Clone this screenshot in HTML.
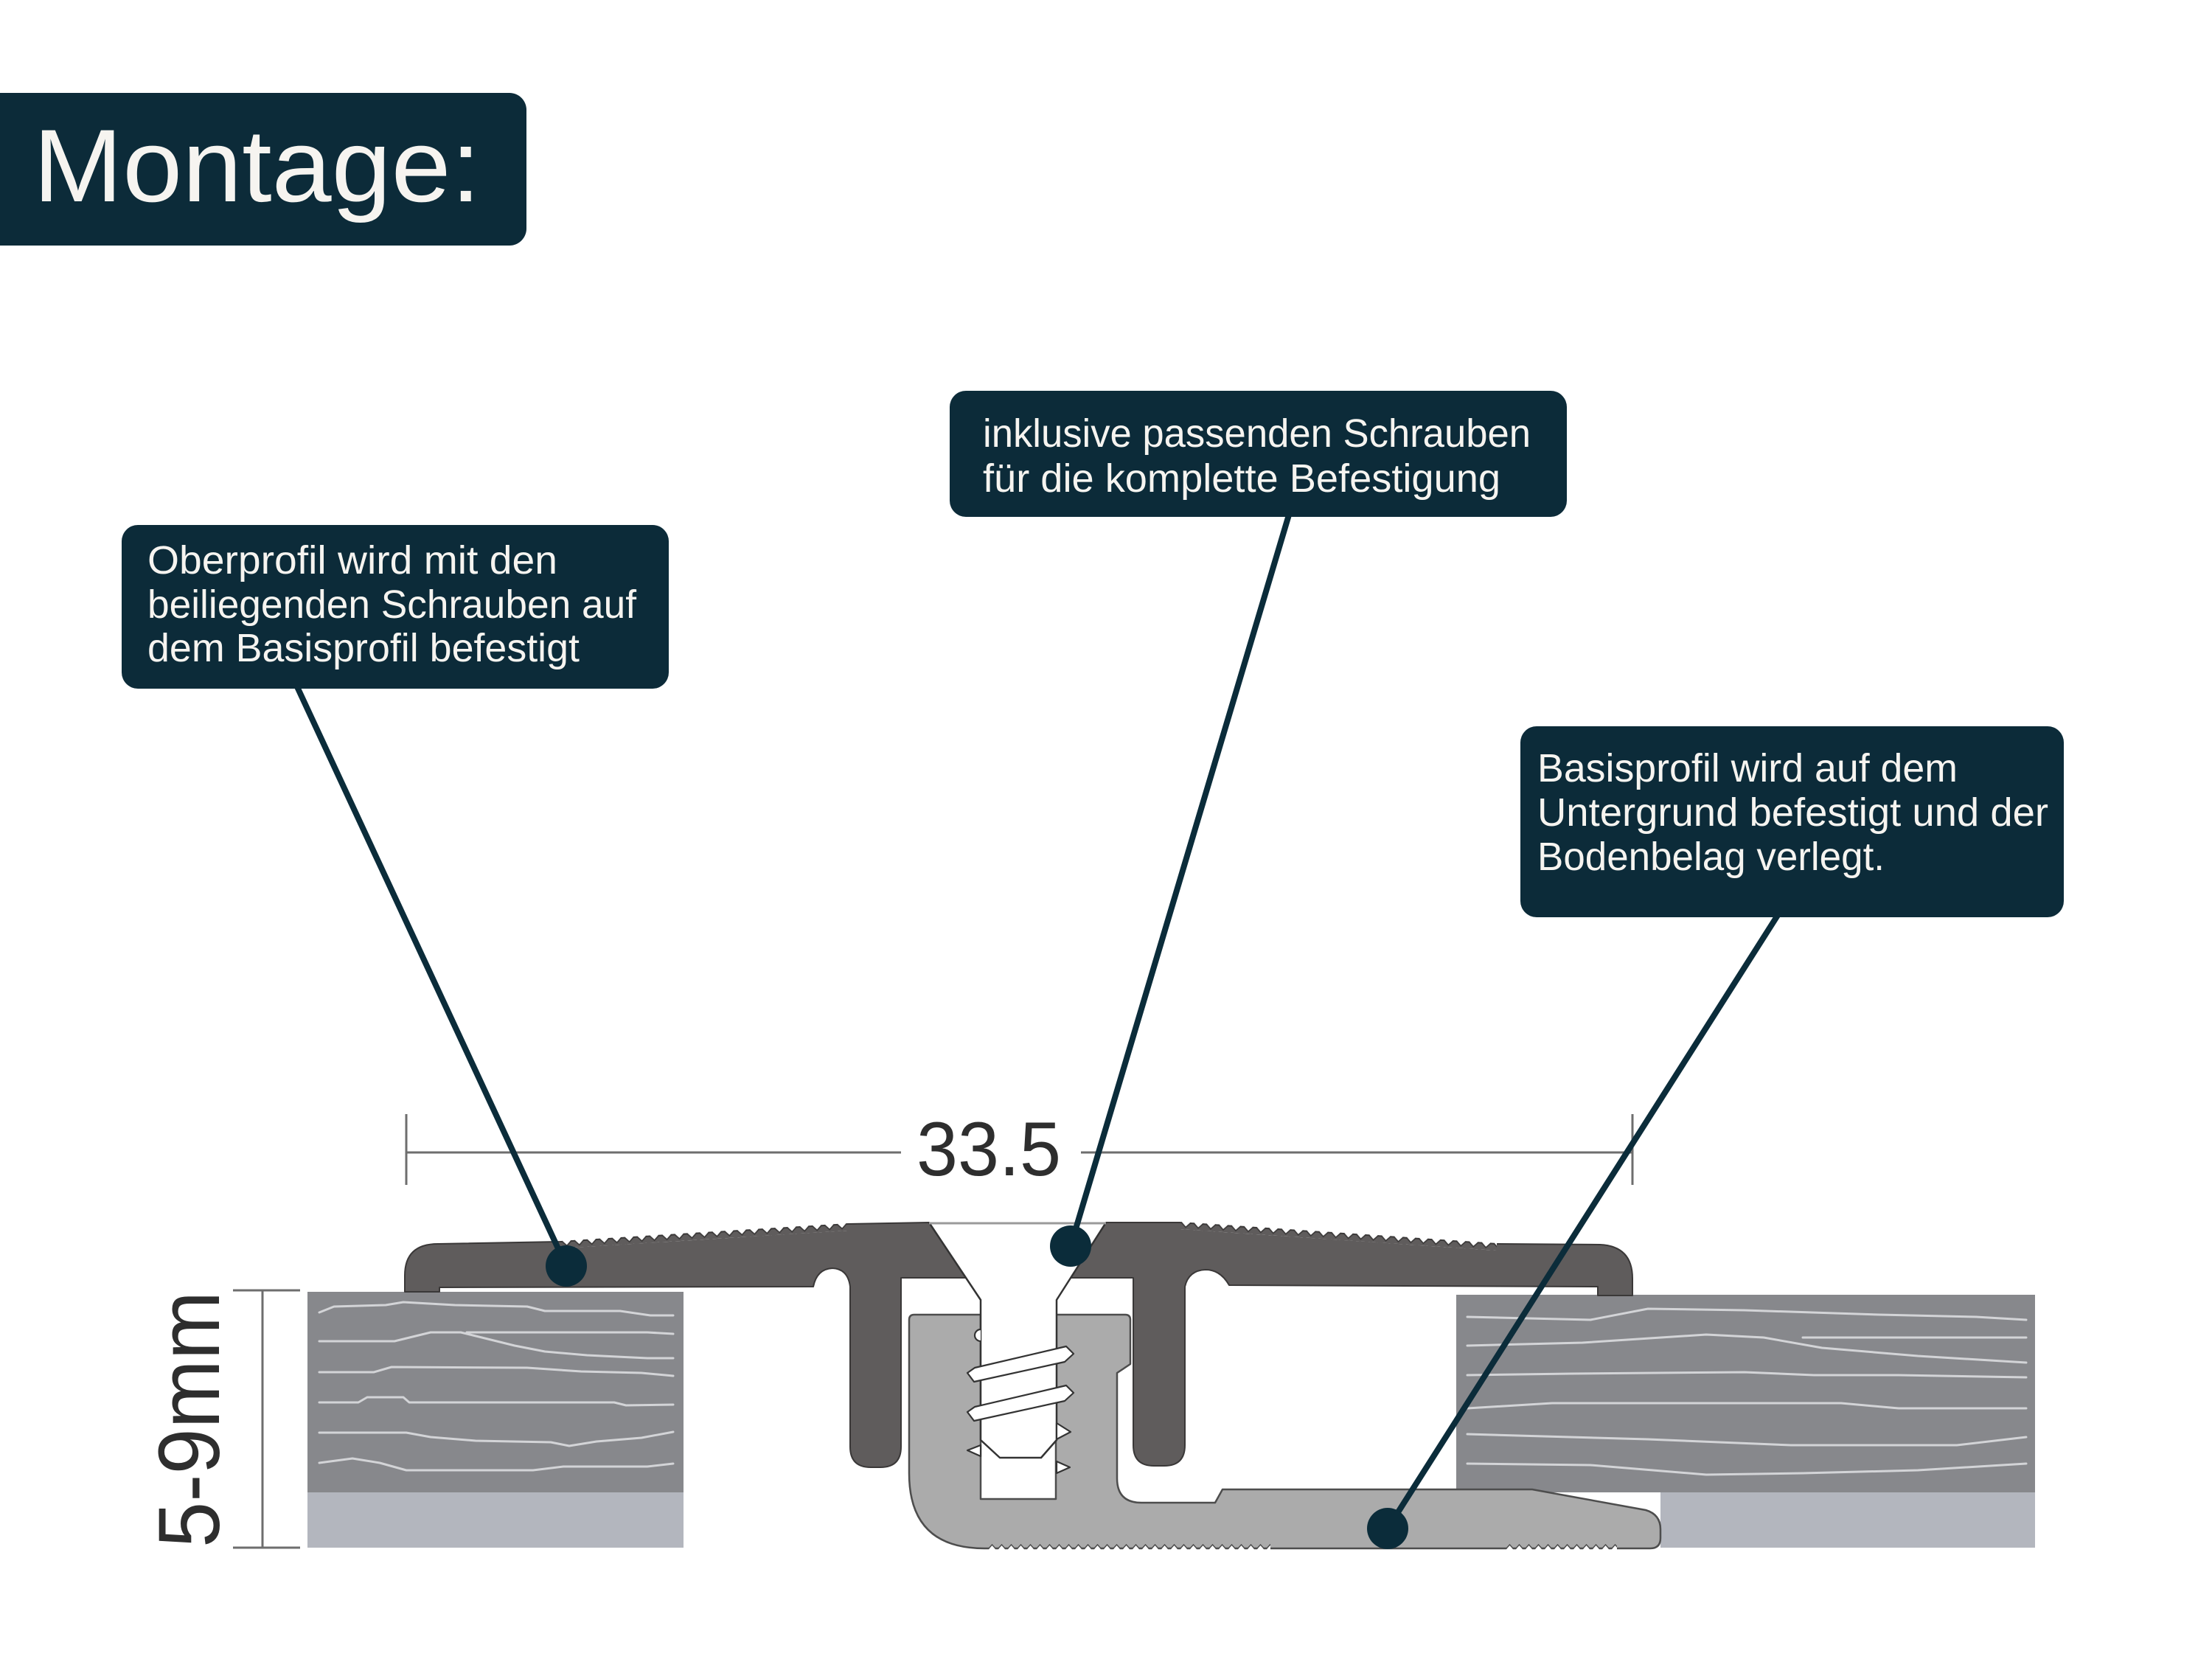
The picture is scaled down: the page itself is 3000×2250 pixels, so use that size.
<!DOCTYPE html>
<html>
<head>
<meta charset="utf-8">
<style>
  html,body{margin:0;padding:0;background:#fff;}
  svg{display:block;}
  text{font-family:"Liberation Sans", "DejaVu Sans", sans-serif;}
</style>
</head>
<body>
<svg width="3000" height="2250" viewBox="0 0 3000 2250" xmlns="http://www.w3.org/2000/svg">
  <defs>
    <pattern id="tT" patternUnits="userSpaceOnUse" width="17" height="11" x="0" y="-2">
      <polygon points="2,0 15,0 8.5,8" fill="#ffffff"/>
      <polyline points="2,1.5 8.5,8 15,1.5" fill="none" stroke="#3a3838" stroke-width="1.6"/>
    </pattern>
    <pattern id="tB" patternUnits="userSpaceOnUse" width="13" height="10" x="0" y="2092">
      <polygon points="1.5,10 11.5,10 6.5,3" fill="#ffffff"/>
      <polyline points="1.5,8.5 6.5,3 11.5,8.5" fill="none" stroke="#4d4d4d" stroke-width="1.5"/>
    </pattern>
  </defs>

  <rect x="0" y="0" width="3000" height="2250" fill="#ffffff"/>

  <!-- Title -->
  <rect x="-40" y="126" width="754" height="207" rx="23" ry="23" fill="#0c2b39"/>
  <text x="45" y="273" font-size="140" fill="#f6f4f0" textLength="607" lengthAdjust="spacingAndGlyphs">Montage:</text>

  <!-- Dimension 33.5 -->
  <g stroke="#6e6e6e" stroke-width="3" fill="none">
    <path d="M551,1563 H1222 M1466,1563 H2214 M551,1511 V1607 M2214,1511 V1607"/>
  </g>
  <text x="1243" y="1594" font-size="104" fill="#2e2e2e" textLength="196" lengthAdjust="spacingAndGlyphs">33.5</text>

  <!-- Dimension 5-9mm -->
  <g stroke="#6e6e6e" stroke-width="3" fill="none">
    <path d="M356,1750 V2099 M316,1750 H407 M316,2099 H407"/>
  </g>
  <text transform="translate(297,2099) rotate(-90)" x="0" y="0" font-size="118" fill="#2e2e2e" textLength="348" lengthAdjust="spacingAndGlyphs">5-9mm</text>

  <!-- Planks -->
  <rect x="417" y="1752" width="510" height="272" fill="#87888c"/>
  <rect x="417" y="2024" width="510" height="75" fill="#b3b6be"/>
  <rect x="1975" y="1756" width="785" height="268" fill="#87888c"/>
  <rect x="2252" y="2024" width="508" height="75" fill="#b3b6be"/>

  <g fill="none" stroke="#d3d4d7" stroke-width="3" stroke-linejoin="round" stroke-linecap="round">
    <polyline points="433,1780 453,1772 523,1770 547,1766 617,1770 715,1772 739,1778 841,1778 882,1784 913,1784"/>
    <polyline points="433,1819 535,1819 584,1807 625,1807 698,1825 739,1833 796,1838 878,1842 913,1842"/>
    <polyline points="633,1807 878,1807 913,1809"/>
    <polyline points="433,1861 507,1861 531,1854 715,1855 788,1860 870,1862 913,1866"/>
    <polyline points="433,1902 486,1902 498,1895 547,1895 555,1902 833,1902 849,1906 913,1905"/>
    <polyline points="433,1943 551,1943 584,1949 645,1954 747,1956 772,1961 809,1955 870,1950 913,1942"/>
    <polyline points="433,1984 478,1978 515,1984 551,1994 723,1994 764,1989 878,1989 913,1985"/>

    <polyline points="1990,1786 2157,1790 2235,1775 2366,1777 2549,1783 2680,1786 2748,1790"/>
    <polyline points="1990,1825 2146,1821 2314,1810 2392,1814 2471,1828 2601,1839 2748,1848"/>
    <polyline points="2445,1814 2748,1814"/>
    <polyline points="1990,1865 2131,1863 2366,1861 2460,1865 2575,1865 2748,1868"/>
    <polyline points="1990,1910 2105,1903 2497,1903 2575,1910 2748,1910"/>
    <polyline points="1990,1945 2235,1952 2429,1960 2654,1960 2748,1949"/>
    <polyline points="1990,1985 2157,1987 2314,2000 2445,1998 2601,1994 2748,1985"/>
  </g>

  <!-- Base profile -->
  <path d="M1240,1783 L1330,1783 L1330,2033 L1432,2033 L1432,1783 L1526,1783 Q1533,1783 1533,1790 L1533,1850 L1515,1862 L1515,2005 Q1515,2038 1548,2038 L1648,2038 L1658,2020 L2078,2020 L2232,2048 Q2252,2054 2252,2074 L2252,2086 Q2252,2100 2238,2100 L1335,2100 Q1233,2100 1233,1998 L1233,1790 Q1233,1783 1240,1783 Z"
        fill="#ababab" stroke="#4d4d4d" stroke-width="2.5" stroke-linejoin="round"/>
  <rect x="1340" y="2092" width="383" height="10" fill="url(#tB)"/>
  <rect x="2040" y="2092" width="153" height="10" fill="url(#tB)"/>

  <!-- Top profile (two pieces separated by screw recess) -->
  <path d="M549,1752 L549,1730 Q549,1687 594,1687 L760,1684 L1150,1660 L1260,1658 L1311,1733 L1222,1733 L1222,1962 Q1222,1990 1194,1990 L1181,1990 Q1153,1990 1153,1962 L1153,1745 Q1150,1721 1129,1720 Q1108,1721 1103,1745 L596,1746 L596,1752 Z"
        fill="#5f5c5c" stroke="#3a3838" stroke-width="2" stroke-linejoin="round"/>
  <path d="M1500,1658 L1600,1658 L2030,1687 L2170,1688 Q2214,1690 2214,1734 L2214,1757 L2167,1757 L2167,1745 L1667,1743 Q1655,1722 1635,1722 Q1612,1723 1607,1745 L1607,1960 Q1607,1988 1579,1988 L1565,1988 Q1537,1988 1537,1960 L1537,1733 L1452,1733 Z"
        fill="#5f5c5c" stroke="#3a3838" stroke-width="2" stroke-linejoin="round"/>
  <g transform="translate(760,1684) rotate(-3.52)">
    <rect x="0" y="-2" width="390" height="11" fill="url(#tT)"/>
  </g>
  <g transform="translate(1600,1658) rotate(3.86)">
    <rect x="0" y="-2" width="431" height="11" fill="url(#tT)"/>
  </g>

  <!-- Screw -->
  <path d="M1260,1658 L1500,1658 L1433,1763 L1433,1953 L1412,1977 L1356,1977 L1330,1953 L1330,1763 Z" fill="#ffffff"/>
  <polyline points="1260,1658 1330,1763 1330,1953 1356,1977 1412,1977 1433,1953 1433,1763 1500,1658" fill="none" stroke="#333" stroke-width="2.5" stroke-linejoin="round"/>
  <line x1="1260" y1="1659" x2="1500" y2="1659" stroke="#9a9a9a" stroke-width="3"/>
  <g fill="#ffffff" stroke="#333" stroke-width="2.2" stroke-linejoin="round">
    <polygon points="1312,1862 1322,1855 1446,1826 1456,1836 1444,1847 1321,1874"/>
    <polygon points="1312,1915 1322,1908 1446,1879 1456,1889 1444,1900 1321,1927"/>
    <path d="M1330,1803 A8,8 0 0 0 1330,1819"/>
    <polygon points="1433,1930 1452,1942 1433,1952"/>
    <polygon points="1330,1960 1312,1967 1330,1975"/>
    <polygon points="1433,1982 1451,1990 1433,1998"/>
  </g>

  <!-- Leader lines (over diagram, under boxes) -->
  <g stroke="#0b2c3a" stroke-width="8" stroke-linecap="round">
    <line x1="400" y1="925" x2="768" y2="1717"/>
    <line x1="1749" y1="695" x2="1452" y2="1690"/>
    <line x1="2415" y1="1235" x2="1882" y2="2073"/>
  </g>

  <!-- Callout boxes -->
  <rect x="165" y="712" width="742" height="222" rx="22" ry="22" fill="#0c2b39"/>
  <g font-size="54" fill="#f6f4f0">
    <text x="200" y="778" textLength="556" lengthAdjust="spacingAndGlyphs">Oberprofil wird mit den</text>
    <text x="200" y="838" textLength="663" lengthAdjust="spacingAndGlyphs">beiliegenden Schrauben auf</text>
    <text x="200" y="897" textLength="586" lengthAdjust="spacingAndGlyphs">dem Basisprofil befestigt</text>
  </g>

  <rect x="1288" y="530" width="837" height="171" rx="22" ry="22" fill="#0c2b39"/>
  <g font-size="54" fill="#f6f4f0">
    <text x="1333" y="606" textLength="743" lengthAdjust="spacingAndGlyphs">inklusive passenden Schrauben</text>
    <text x="1333" y="667" textLength="702" lengthAdjust="spacingAndGlyphs">für die komplette Befestigung</text>
  </g>

  <rect x="2062" y="985" width="737" height="259" rx="22" ry="22" fill="#0c2b39"/>
  <g font-size="54" fill="#f6f4f0">
    <text x="2085" y="1060" textLength="570" lengthAdjust="spacingAndGlyphs">Basisprofil wird auf dem</text>
    <text x="2085" y="1120" textLength="693" lengthAdjust="spacingAndGlyphs">Untergrund befestigt und der</text>
    <text x="2085" y="1180" textLength="471" lengthAdjust="spacingAndGlyphs">Bodenbelag verlegt.</text>
  </g>

  <!-- Dots -->
  <g fill="#0b2c3a">
    <circle cx="768" cy="1717" r="28"/>
    <circle cx="1452" cy="1690" r="28"/>
    <circle cx="1882" cy="2073" r="28"/>
  </g>
</svg>
</body>
</html>
